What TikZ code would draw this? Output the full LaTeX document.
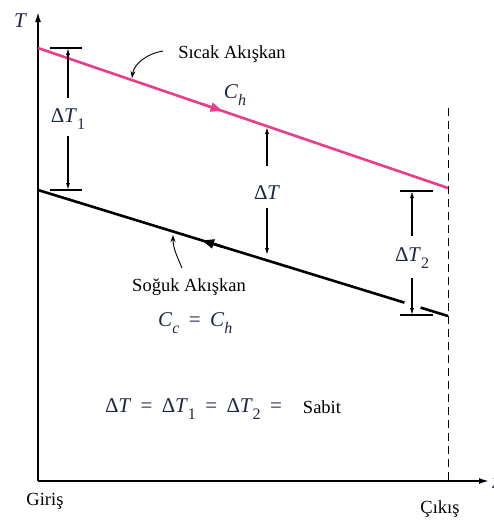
\documentclass[tikz,border=0pt]{standalone}
\usepackage{fontspec}
\setmainfont{Liberation Serif}
\usetikzlibrary{arrows.meta,calc}
\definecolor{hotpink}{RGB}{233,62,140}
\definecolor{mathnavy}{RGB}{30,38,70}
\newcommand\mysub[1]{\raisebox{-0.32em}{\fontsize{16}{16}\selectfont #1}}
\newcommand\myDT{Δ\kern-0.02em\textit{T}}
\newcommand\myeq{\hspace{0.45em}=\hspace{0.45em}}
\begin{document}
\begin{tikzpicture}[x=1pt,y=-1pt,
  txt/.style={font=\fontsize{18.5}{21}\selectfont, inner sep=0pt},
  mth/.style={font=\fontsize{21}{24}\selectfont, text=mathnavy, inner sep=0pt},
  axisline/.style={line width=1.6pt},
  dimline/.style={line width=1.1pt, -{Latex[length=7pt,width=4pt]}},
  tickline/.style={line width=1.2pt},
  pointer/.style={line width=0.9pt, -{Stealth[length=7pt,width=5pt]}},
  flowtip/.style={line width=2.6pt, -{Triangle[length=12pt,width=9pt]}},
]
\useasboundingbox (0,0) rectangle (493,525);
\clip (0,0) rectangle (493,525);
% axes
\coordinate (O) at (38,481);
\coordinate (Ytop) at (38,12);
\coordinate (Xend) at (489,481);
\draw[axisline,-{Latex[length=10pt,width=6pt]}] (O) -- (Ytop);
\draw[axisline,-{Latex[length=10pt,width=6pt]}] (O) -- (Xend);
\node[mth,font=\fontsize{21}{24}\selectfont\itshape] (Tlab) at (20,21) {T};
\node[mth,font=\fontsize{21}{24}\selectfont\itshape] (xlab) at (497,484) {x};
\node[txt] (giris) at (45,501) {Giriş};
\node[txt] (cikis) at (440,509) {Çıkış};
% dashed exit line
\coordinate (Dtop) at (448,108);
\coordinate (Dbot) at (448,481);
\draw[line width=1pt, dash pattern=on 8pt off 5pt] (Dtop) -- (Dbot);
% hot and cold lines
\coordinate (H1) at (38,48);
\coordinate (H2) at (448,188);
\coordinate (C1) at (38,190);
\coordinate (C2) at (448,316);
\draw[hotpink, line width=2.6pt] (H1) -- (H2);
\draw[line width=2.6pt] (C1) -- (C2);
\draw[hotpink, flowtip] ($(H1)!0.40!(H2)$) -- ($(H1)!0.45!(H2)$);
\draw[flowtip] ($(C1)!0.45!(C2)$) -- ($(C1)!0.40!(C2)$);
% gap in cold line at dT2
\draw[white, line width=4pt] (404.5,302.7) -- (420.5,307.6);
% dimension T1
\coordinate (A1t) at (68,48);
\coordinate (A1b) at (68,190);
\draw[tickline] (50,48) -- (82,48);
\draw[tickline] (50,190) -- (82,190);
\node[mth] (dT1) at (68,119) {\myDT\mysub{1}};
\draw[dimline] (68,98) -- (A1t);
\draw[dimline] (68,136) -- (A1b);
% dimension T
\node[mth] (dT) at (267,193) {\myDT};
\coordinate (Bt) at (267,127);
\coordinate (Bb) at (267,255);
\draw[dimline] (267,166) -- (Bt);
\draw[dimline] (267,208) -- (Bb);
% dimension T2
\draw[tickline] (400,191) -- (433,191);
\draw[tickline] (400,315) -- (433,315);
\node[mth] (dT2) at (412,258) {\myDT\mysub{2}};
\coordinate (Ct) at (412,191);
\coordinate (Cb) at (412,315);
\draw[dimline] (412,236) -- (Ct);
\draw[dimline] (412,278) -- (Cb);
% labels
\node[txt] (sicak) at (232,54) {Sıcak Akışkan};
\coordinate (sp) at (163,51);
\coordinate (st) at (132,78);
\draw[pointer] (sp) .. controls (146,54) and (134,64) .. (st);
\node[mth] (Ch) at (235,95) {\textit{C}\mysub{\textit{h}}};
\node[txt] (soguk) at (189,287) {Soğuk Akışkan};
\coordinate (gp) at (182,268);
\coordinate (gt) at (173,235);
\draw[pointer] (gp) .. controls (178,258) and (173,249) .. (gt);
\node[mth, anchor=west] (CcCh) at (158,323) {\textit{C}\mysub{\textit{c}}\myeq\textit{C}\mysub{\textit{h}}};
\node[mth, anchor=west] (eq) at (105,409) {\myDT\myeq\myDT\mysub{1}\myeq\myDT\mysub{2}\myeq};
\node[txt] (sabit) at (322,407) {Sabit};
\end{tikzpicture}
\end{document}
